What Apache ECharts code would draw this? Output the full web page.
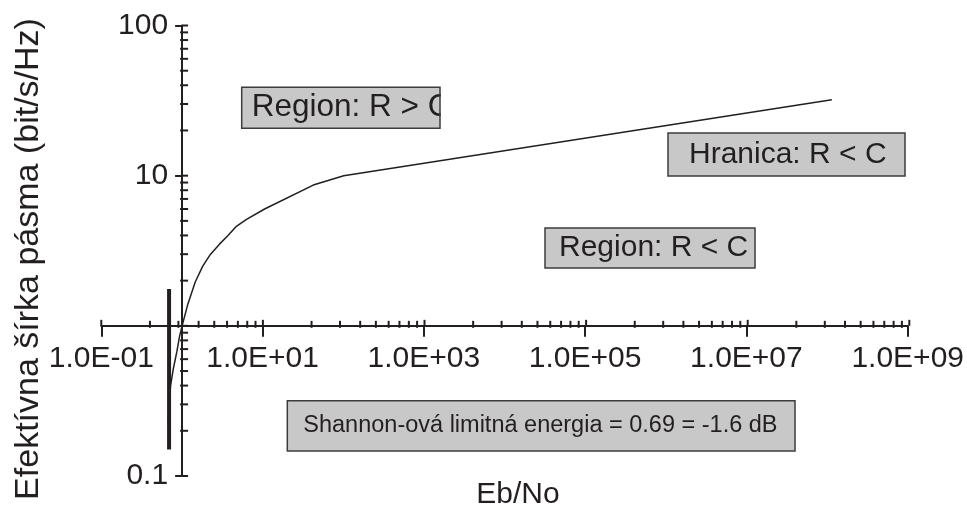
<!DOCTYPE html>
<html>
<head>
<meta charset="utf-8">
<script src="https://cdn.jsdelivr.net/npm/echarts@6/dist/echarts.min.js"></script>
<style>
  html, body { margin: 0; padding: 0; background: #fff; }
  #chart { width: 967px; height: 510px; }
</style>
</head>
<body>
<div id="chart"></div>
<script>
// Shannon limit curve: Eb/No against bandwidth efficiency
const ebNo       = [0.67, 0.69, 0.72, 0.78, 0.86, 0.93, 1.0, 1.18, 1.45, 1.8, 2.25, 2.9, 3.7, 4.7, 6.2, 10.5, 42, 100, 1.1e8];
const efficiency = [0.22, 0.3, 0.4, 0.52, 0.67, 0.85, 1.0, 1.4, 1.95, 2.5, 3.0, 3.5, 4.0, 4.6, 5.1, 6.0, 8.66, 10, 32];

// Shannon limit marker at Eb/No = 0.69 (-1.6 dB)
const limitEbNo = [0.69, 0.69];
const limitSpan = [1.76, 0.15];

// Axis ticks
const xMajorTicks = [0.1, 10, 1e3, 1e5, 1e7, 1e9];
const yMajorTicks = [0.1, 1, 10, 100];
const yHiddenLabels = [1];

// Texts
const notes = ['Region: R > C', 'Hranica: R < C', 'Region: R < C', 'Shannon-ová limitná energia = 0.69 = -1.6 dB'];
const xTitle = 'Eb/No';
const yTitle = 'Efektívna šírka pásma (bit/s/Hz)';

const INK = '#231f20';
const FONT = '"Liberation Sans", Arial, sans-serif';

// plot frame (pixels)
const L = 101.3, R = 909.3, T = 25.5, B = 476;
const xDec = (R - L) / 10, yDec = (B - T) / 3;
const xOne = L + xDec;           // x = 1
const yOne = T + 2 * yDec;       // y = 1

function sci(v) {
  const e = Math.round(Math.log10(v));
  const m = v / Math.pow(10, e);
  return m.toFixed(1) + 'E' + (e < 0 ? '-' : '+') + String(Math.abs(e)).padStart(2, '0');
}

// minor ticks: x spans two decades per major step, y one decade
const xMinor = [];
xMajorTicks.slice(0, -1).forEach(m => { for (let k = 2; k <= 9; k++) xMinor.push(m * k * k); });
const yMinor = [];
yMajorTicks.slice(0, -1).forEach(m => { for (let k = 2; k <= 9; k++) yMinor.push(m * k); });

function tickSeries(values, onX, inner, outer) {
  return {
    type: 'custom', xAxisIndex: 0, yAxisIndex: 0, silent: true, clip: false,
    data: values.map(v => onX ? [v, 1] : [1, v]),
    renderItem: (params, api) => {
      const p = api.coord([api.value(0), api.value(1)]);
      const shape = onX
        ? { x1: p[0], y1: p[1] - inner, x2: p[0], y2: p[1] + outer }
        : { x1: p[0] - outer, y1: p[1], x2: p[0] + inner, y2: p[1] };
      return { type: 'line', shape, style: { stroke: INK, lineWidth: 2 } };
    },
    z: 3
  };
}

function noteBox(text, x, y, w, h, size, padLeft, clipRight) {
  const children = [
    { type: 'rect', shape: { x: 0, y: 0, width: w, height: h }, style: { fill: '#c8c8c8' } },
    { type: 'text', x: padLeft, y: h / 2,
      style: { text, fontSize: size, fontFamily: FONT, fill: INK, verticalAlign: 'middle', align: 'left' } }
  ];
  if (clipRight) {
    // text running past the right edge of the box is cut off
    children.push({ type: 'rect', shape: { x: w + 0.8, y: -2, width: 24, height: h + 4 }, style: { fill: '#fff' } });
  }
  children.push({ type: 'rect', shape: { x: 0, y: 0, width: w, height: h }, style: { fill: null, stroke: '#3c3c3c', lineWidth: 1.5 } });
  return { type: 'group', x, y, children, z: 10 };
}

const chart = echarts.init(document.getElementById('chart'), null, { renderer: 'canvas' });

chart.setOption({
  animation: false,
  backgroundColor: '#fff',
  grid: [
    { left: L, top: T, width: R - L, height: B - T },
    { left: L, top: T, width: R - L, height: yOne - T },
    { left: xOne, top: T, width: R - xOne, height: B - T }
  ],
  xAxis: [
    { gridIndex: 0, type: 'log', min: 0.1, max: 1e9, show: false },
    { gridIndex: 1, type: 'log', logBase: 10, min: 0.1, max: 1e9, interval: 2,
      axisLine: { onZero: false, lineStyle: { color: INK, width: 2 } },
      axisTick: { show: true, length: 11, lineStyle: { color: INK, width: 2 } },
      minorTick: { show: false }, splitLine: { show: false },
      axisLabel: { formatter: v => sci(v), fontSize: 30, fontFamily: FONT, color: INK, margin: 18,
                   showMinLabel: true, showMaxLabel: true, hideOverlap: false } },
    { gridIndex: 2, type: 'log', min: 1, max: 1e9, show: false }
  ],
  yAxis: [
    { gridIndex: 0, type: 'log', min: 0.1, max: 100, show: false },
    { gridIndex: 1, type: 'log', min: 1, max: 100, show: false },
    { gridIndex: 2, type: 'log', min: 0.1, max: 100, interval: 1,
      axisLine: { onZero: false, lineStyle: { color: INK, width: 2 } },
      axisTick: { show: true, length: 7, lineStyle: { color: INK, width: 2 } },
      splitLine: { show: false },
      axisLabel: { formatter: v => yHiddenLabels.includes(v) ? '' : String(v),
                   fontSize: 30, fontFamily: FONT, color: INK, margin: 14,
                   showMinLabel: true, showMaxLabel: true, hideOverlap: false } }
  ],
  series: [
    { type: 'line', xAxisIndex: 0, yAxisIndex: 0, showSymbol: false, silent: true, z: 4,
      data: ebNo.map((v, i) => [v, efficiency[i]]),
      lineStyle: { color: INK, width: 1.5 } },
    { type: 'line', xAxisIndex: 0, yAxisIndex: 0, showSymbol: false, silent: true, z: 5,
      data: limitEbNo.map((v, i) => [v, limitSpan[i]]),
      lineStyle: { color: INK, width: 4, cap: 'butt' } },
    tickSeries(xMinor, true, 5, 2),
    tickSeries(xMajorTicks, true, 6, 0),
    tickSeries(yMinor, false, 6, 2),
    tickSeries(yMajorTicks, false, 6, 0)
  ],
  graphic: [
    noteBox(notes[0], 241.7, 87.3, 198.3, 41, 31.5, 10, true),
    noteBox(notes[1], 668, 133, 237, 43, 30, 21),
    noteBox(notes[2], 545, 228, 210, 40, 30, 14),
    noteBox(notes[3], 287.3, 400.7, 507.7, 50.3, 23.5, 16),
    { type: 'text', x: 518, y: 495, z: 10,
      style: { text: xTitle, fontSize: 30, fontFamily: FONT, fill: INK, align: 'center', verticalAlign: 'middle' } },
    { type: 'text', x: 29, y: 259, rotation: Math.PI / 2, z: 10,
      style: { text: yTitle, fontSize: 34, fontFamily: FONT, fill: INK, align: 'center', verticalAlign: 'middle' } }
  ]
});
</script>
</body>
</html>
